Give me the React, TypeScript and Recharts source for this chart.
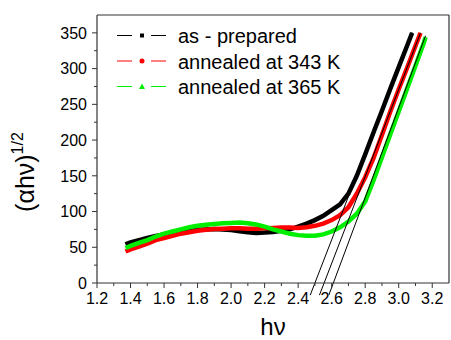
import React from 'react';
import { LineChart, Line, XAxis, YAxis, ReferenceLine } from 'recharts';

// photon energy (eV) samples for each series
const hvAsPrepared = [1.37,1.40,1.45,1.50,1.55,1.60,1.65,1.70,1.75,1.80,1.85,1.90,1.95,2.00,2.05,2.10,2.15,2.20,2.25,2.30,2.35,2.40,2.45,2.50,2.55,2.60,2.65,2.70,2.75,2.80,2.85,2.90,2.95,3.00,3.05,3.08];
const valAsPrepared = [54,57,60,63,66,68,70,72,73.5,74.5,75,75.5,75,74,72.5,71,70,70.5,71.5,73,75,79,83,88,94,102,110,125,150,180,211,241,272,302,332,350];

const hv343 = [1.37,1.40,1.45,1.50,1.55,1.60,1.65,1.70,1.75,1.80,1.85,1.90,1.95,2.00,2.05,2.10,2.15,2.20,2.25,2.30,2.35,2.40,2.45,2.50,2.55,2.60,2.65,2.70,2.75,2.80,2.85,2.90,2.95,3.00,3.05,3.10,3.13];
const val343 = [44,47,51,55,60,63,66,69,71,73,74.5,75.5,76,76.5,76.5,76,76,76.5,77,77.5,77.5,77,78,80,83,88,95,106,125,148,175,207,240,271,301,332,350];

const hv365 = [1.37,1.40,1.45,1.50,1.55,1.60,1.65,1.70,1.75,1.80,1.85,1.90,1.95,2.00,2.05,2.10,2.15,2.20,2.25,2.30,2.35,2.40,2.45,2.50,2.55,2.60,2.65,2.70,2.75,2.80,2.85,2.90,2.95,3.00,3.05,3.10,3.15,3.16];
const val365 = [49,52,56,60,65,69,72,75,78,80,81.5,82.5,83.5,84,84.5,83.5,82,79,75,72,69,67,66,66,68,72,78,86,97,114,144,176,208,240,272,304,336,344];

// Tauc extrapolation lines: [x at bottom, y at bottom, x at top, y at top]
const tangentAsPrepared = [2.472, -17, 3.08, 351];
const tangent343 = [2.527, -17, 3.13, 350];
const tangent365 = [2.583, -17, 3.16, 346];

const seriesNames = ['as - prepared', 'annealed at 343 K', 'annealed at 365 K'];
const seriesColors = ['#000000', '#ff0000', '#00ee00'];

const xTicks = [1.2,1.3,1.4,1.5,1.6,1.7,1.8,1.9,2.0,2.1,2.2,2.3,2.4,2.5,2.6,2.7,2.8,2.9,3.0,3.1,3.2];
const yTicks = [0,25,50,75,100,125,150,175,200,225,250,275,300,325,350];

const FONT = 'Liberation Sans, Arial, sans-serif';
const AXIS = '#333333';

const toPoints = (xs: number[], ys: number[]) => xs.map((x, i) => ({ x, y: ys[i] }));
const dataAsPrepared = toPoints(hvAsPrepared, valAsPrepared);
const data343 = toPoints(hv343, val343);
const data365 = toPoints(hv365, val365);

const isMajorX = (v: number) => Math.abs(v * 5 - Math.round(v * 5)) < 1e-6;
const isMajorY = (v: number) => Math.abs(v / 50 - Math.round(v / 50)) < 1e-6;

const XTick = (props: any) => {
  const { x, y, payload } = props;
  const v = payload.value as number;
  const major = isMajorX(v);
  return (
    <g>
      <line x1={x} x2={x} y1={y} y2={y + (major ? 5 : 3)} stroke={AXIS} strokeWidth={1} />
      {major && (
        <text x={x} y={y + 10} dy="0.71em" textAnchor="middle" fontSize={16} fontFamily={FONT} fill="#000">
          {v.toFixed(1)}
        </text>
      )}
    </g>
  );
};

const YTick = (props: any) => {
  const { x, y, payload } = props;
  const v = payload.value as number;
  const major = isMajorY(v);
  return (
    <g>
      <line x1={x} x2={x - (major ? 5 : 3)} y1={y} y2={y} stroke={AXIS} strokeWidth={1} />
      {major && (
        <text x={x - 10} y={y} dy="0.36em" textAnchor="end" fontSize={16} fontFamily={FONT} fill="#000">
          {String(v)}
        </text>
      )}
    </g>
  );
};

const YTitle = (props: any) => {
  const vb = props.viewBox || { x: 0, y: 15, width: 97, height: 268 };
  const cx = vb.x + 34;
  const cy = vb.y + vb.height / 2 + 23;
  return (
    <text transform={`translate(${cx},${cy}) rotate(-90)`} textAnchor="middle" fontFamily={FONT} fill="#000" fontSize={25}>
      (αhν)
      <tspan fontSize={16} dy={-11}>1/2</tspan>
    </text>
  );
};

const XTitle = (props: any) => {
  const vb = props.viewBox || { x: 97, y: 283, width: 352, height: 57 };
  return (
    <text x={vb.x + vb.width / 2} y={vb.y + 52} textAnchor="middle" fontFamily={FONT} fontSize={24} fill="#000">
      hν
    </text>
  );
};

const Marker = ({ kind, cx, cy, color }: { kind: number; cx: number; cy: number; color: string }) => {
  if (kind === 0) return <rect x={cx - 2} y={cy - 2} width={4} height={4} fill={color} />;
  if (kind === 1) return <circle cx={cx} cy={cy} r={2.5} fill={color} />;
  return <polygon points={`${cx},${cy - 3} ${cx - 3},${cy + 2.5} ${cx + 3},${cy + 2.5}`} fill={color} />;
};

const LegendOverlay = () => (
  <svg width={451} height={340} style={{ position: 'absolute', left: 0, top: 0, pointerEvents: 'none' }}>
    {seriesNames.map((name, i) => {
      const ry = 35.5 + i * 25.5;
      const c = seriesColors[i];
      return (
        <g key={name}>
          <line x1={117} x2={132} y1={ry} y2={ry} stroke={c} strokeWidth={1} />
          <Marker kind={i} cx={142} cy={ry} color={c} />
          <line x1={151} x2={166} y1={ry} y2={ry} stroke={c} strokeWidth={1} />
          <text x={178} y={ry + 7.5} fontFamily={FONT} fontSize={20} fill="#000">{name}</text>
        </g>
      );
    })}
  </svg>
);

export default function App() {
  return (
    <div style={{ position: 'absolute', left: 0, top: 0, width: 451, height: 340, background: '#fff' }}>
      <LineChart width={451} height={340} margin={{ top: 15, right: 2, bottom: 0, left: 0 }}>
        <XAxis
          type="number"
          dataKey="x"
          domain={[1.2, 3.3]}
          ticks={xTicks}
          interval={0}
          allowDataOverflow
          height={57}
          tickSize={0}
          tickMargin={0}
          tickLine={false}
          tick={<XTick />}
          axisLine={{ stroke: AXIS, strokeWidth: 1.2 }}
          label={<XTitle />}
        />
        <YAxis
          type="number"
          dataKey="y"
          domain={[0, 375]}
          ticks={yTicks}
          interval={0}
          allowDataOverflow
          width={97}
          tickSize={0}
          tickMargin={0}
          tickLine={false}
          tick={<YTick />}
          axisLine={{ stroke: AXIS, strokeWidth: 1.2 }}
          label={<YTitle />}
        />
        <ReferenceLine y={375} stroke={AXIS} strokeWidth={1.2} />
        <ReferenceLine x={3.3} stroke={AXIS} strokeWidth={1.2} />
        <Line data={dataAsPrepared} dataKey="y" type="linear" stroke={seriesColors[0]} strokeWidth={4.5} dot={false} isAnimationActive={false} />
        <Line data={data343} dataKey="y" type="linear" stroke={seriesColors[1]} strokeWidth={4.5} dot={false} isAnimationActive={false} />
        <Line data={data365} dataKey="y" type="linear" stroke={seriesColors[2]} strokeWidth={4.5} dot={false} isAnimationActive={false} />
        {[tangentAsPrepared, tangent343, tangent365].map((t, i) => (
          <ReferenceLine
            key={i}
            segment={[{ x: t[0], y: t[1] }, { x: t[2], y: t[3] }]}
            stroke="#000"
            strokeWidth={1}
            ifOverflow="visible"
          />
        ))}
      </LineChart>
      <LegendOverlay />
    </div>
  );
}
